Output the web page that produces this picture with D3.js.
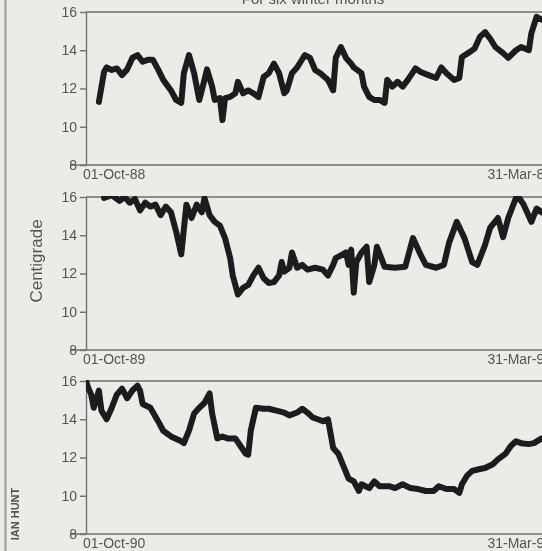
<!DOCTYPE html>
<html>
<head>
<meta charset="utf-8">
<script src="https://cdn.jsdelivr.net/npm/d3@7"></script>
<style>
  body { margin: 0; background: #ecebe8; }
  svg { display: block; }
  .axis path, .axis line { stroke: #6f6f6f; stroke-width: 1.4; }
  .axis text { fill: #555; font-family: "Liberation Sans", Arial, sans-serif; font-size: 14px; }
  .label { fill: #555; font-family: "Liberation Sans", Arial, sans-serif; }
</style>
</head>
<body>
<script>
// day of season (0 = 01-Oct, 181 = 31-Mar) and temperature for each winter
var days88 = [5,7,8,10,12,14,16,18,20,22,24,26,28,30,33,35,37,38,40,42,44,46,47,49,50,52,53,54,56,58,59,61,63,65,67,69,71,73,75,77,78,80,82,85,87,89,91,94,96,97,99,101,103,104,107,108,110,112,114,116,117,119,121,123,125,128,130,133,136,138,140,143,145,146,149,151,153,155,157,159,162,164,167,169,172,173,175,177];
var temps88 = [11.3,12.86,13.1,12.97,13.05,12.7,13.0,13.6,13.75,13.4,13.5,13.5,13.0,12.45,11.9,11.4,11.25,12.8,13.75,12.8,11.4,12.45,13.0,12.1,11.4,11.5,10.35,11.5,11.56,11.75,12.35,11.75,11.9,11.75,11.55,12.6,12.8,13.3,12.8,11.75,11.9,12.8,13.1,13.75,13.6,12.97,12.8,12.45,11.9,13.6,14.17,13.6,13.3,13.1,12.8,12.1,11.56,11.4,11.4,11.25,12.45,12.1,12.35,12.1,12.45,13.05,12.86,12.7,12.55,13.1,12.8,12.45,12.55,13.65,13.9,14.1,14.7,14.95,14.6,14.17,13.85,13.6,14.0,14.17,14.0,14.9,15.75,15.6];

var days89 = [7,10,13,15,17,19,21,23,25,27,29,31,33,35,37,39,41,43,45,46,48,50,52,54,56,57,59,61,63,65,67,69,71,73,75,76,77,79,80,82,84,86,89,92,94,96,97,99,101,102,103,104,105,107,109,110,112,113,116,120,124,127,130,132,136,139,141,144,147,150,152,155,157,160,162,164,167,168,170,173,175,177];
var temps89 = [15.95,16.1,15.8,16.0,15.7,15.9,15.3,15.7,15.5,15.6,15.05,15.5,15.2,14.2,13.0,15.6,14.9,15.6,15.2,15.95,15.05,14.7,14.5,13.85,12.8,11.9,10.9,11.25,11.4,11.9,12.3,11.75,11.5,11.55,11.9,12.6,12.1,12.3,13.1,12.3,12.45,12.2,12.3,12.2,11.9,12.45,12.8,12.95,13.1,12.45,13.25,11.0,12.6,13.1,13.4,11.55,12.45,13.4,12.35,12.3,12.35,13.85,12.97,12.45,12.3,12.45,13.6,14.7,13.85,12.6,12.45,13.5,14.4,14.9,13.9,14.9,15.95,16.0,15.6,14.7,15.4,15.2];

var days90 = [0,1,2,3,5,6,8,10,12,14,16,18,20,21,22,25,28,30,33,37,38,40,42,44,46,48,49,51,53,55,58,60,62,63,64,66,69,71,74,77,79,82,84,86,88,90,92,94,96,98,100,102,104,106,107,110,112,114,118,120,123,126,129,132,135,137,140,143,145,146,148,150,153,155,158,160,163,165,167,169,172,174,177];
var temps90 = [16.0,15.6,15.3,14.6,15.5,14.45,14.0,14.6,15.3,15.6,15.1,15.5,15.75,15.5,14.8,14.6,13.9,13.4,13.1,12.85,12.75,13.4,14.3,14.6,14.85,15.35,14.3,13.0,13.1,13.0,13.0,12.6,12.2,12.15,13.4,14.6,14.55,14.55,14.45,14.35,14.2,14.35,14.55,14.35,14.1,14.0,13.9,14.0,12.5,12.2,11.55,10.9,10.75,10.25,10.6,10.4,10.75,10.5,10.5,10.4,10.6,10.4,10.35,10.25,10.25,10.5,10.35,10.35,10.15,10.6,11.05,11.3,11.4,11.45,11.65,11.9,12.2,12.6,12.85,12.75,12.7,12.75,13.0];

var yTicks = [8, 10, 12, 14, 16];
var startLabels = ["01-Oct-88", "01-Oct-89", "01-Oct-90"];
var endLabels = ["31-Mar-89", "31-Mar-90", "31-Mar-91"];

var width = 542;
var height = 551;
var tops = [12, 197, 381]; // top of each panel
var plotH = 153;
var axisLeft = 86;

var svg = d3.select("body")
            .append("svg")
            .attr("width", width)
            .attr("height", height);

// slight softening, the original is a scan
svg.append("filter")
    .attr("id", "soft")
    .append("feGaussianBlur")
    .attr("stdDeviation", 0.45);

svg.append("rect")
    .attr("width", width)
    .attr("height", height)
    .attr("fill", "#ecebe8");

var root = svg.append("g").attr("filter", "url(#soft)");

// page border on the left
root.append("line")
    .attr("x1", 5.5).attr("x2", 5.5)
    .attr("y1", 0).attr("y2", height)
    .attr("stroke", "#9a9a9a")
    .attr("stroke-width", 2);

// title, mostly cut off at the top
root.append("text")
    .attr("class", "label")
    .attr("x", 313)
    .attr("y", 4)
    .attr("text-anchor", "middle")
    .style("font-size", "15px")
    .text("For six winter months");

var x = d3.scaleLinear()
            .domain([0, 181])
            .range([axisLeft, 552]);

var series = [
    {days: days88, temps: temps88},
    {days: days89, temps: temps89},
    {days: days90, temps: temps90}
];

series.forEach(function(s, i) {
    var top = tops[i];
    var y = d3.scaleLinear()
                .domain([8, 16])
                .range([top + plotH, top]);

    var g = root.append("g");

    // frame line along 16
    g.append("line")
        .attr("x1", axisLeft).attr("x2", width)
        .attr("y1", y(16)).attr("y2", y(16))
        .attr("stroke", "#6f6f6f")
        .attr("stroke-width", 1.4);

    // baseline along 8, running a bit left of the axis
    g.append("line")
        .attr("x1", 70).attr("x2", width)
        .attr("y1", y(8)).attr("y2", y(8))
        .attr("stroke", "#6f6f6f")
        .attr("stroke-width", 1.4);

    g.append("g")
        .attr("class", "axis")
        .attr("transform", "translate(" + axisLeft + ",0)")
        .call(d3.axisLeft(y).tickValues(yTicks).tickSize(6).tickSizeOuter(0).tickPadding(3));

    // date labels under the baseline
    g.append("text")
        .attr("class", "label")
        .attr("x", x(0) - 3)
        .attr("y", y(8) + 14)
        .style("font-size", "14px")
        .text(startLabels[i]);
    g.append("text")
        .attr("class", "label")
        .attr("x", x(181))
        .attr("y", y(8) + 14)
        .attr("text-anchor", "end")
        .style("font-size", "14px")
        .text(endLabels[i]);

    // clip the trace to the plot box
    svg.append("clipPath")
        .attr("id", "clip" + i)
        .append("rect")
        .attr("x", axisLeft)
        .attr("y", y(16) - 1)
        .attr("width", width - axisLeft)
        .attr("height", plotH + 1);

    var points = s.days.map(function(d, j) { return [d, s.temps[j]]; });
    var line = d3.line()
                    .x(function(d) { return x(d[0]); })
                    .y(function(d) { return y(d[1]); });

    g.append("path")
        .datum(points)
        .attr("clip-path", "url(#clip" + i + ")")
        .attr("fill", "none")
        .attr("stroke", "#1d1d1d")
        .attr("stroke-width", 6)
        .attr("stroke-linejoin", "round")
        .attr("stroke-linecap", "round")
        .attr("d", line);
});

// y label
root.append("text")
    .attr("class", "label")
    .attr("transform", "translate(42,261) rotate(-90)")
    .attr("text-anchor", "middle")
    .style("font-size", "17px")
    .text("Centigrade");

// credit
root.append("text")
    .attr("class", "label")
    .attr("transform", "translate(19,514) rotate(-90)")
    .attr("text-anchor", "middle")
    .style("font-size", "11px")
    .style("font-weight", "bold")
    .text("IAN HUNT");
</script>
</body>
</html>
